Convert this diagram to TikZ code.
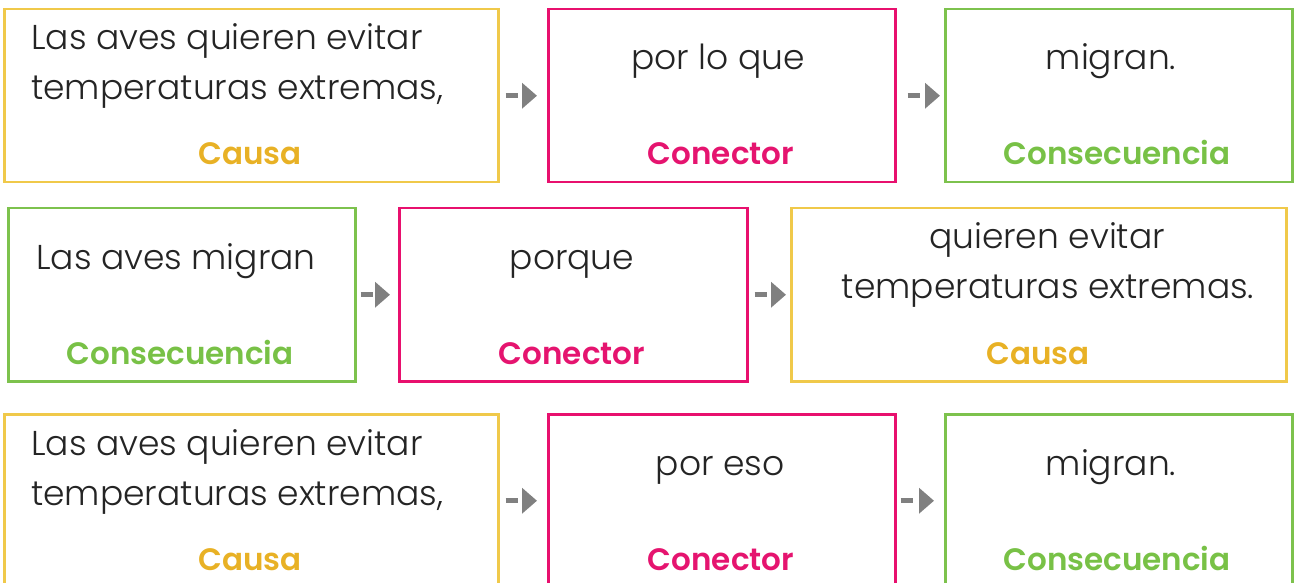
\documentclass[tikz,border=0pt]{standalone}
\usepackage{fontspec}
\setmainfont{Poppins}[UprightFont=* Light, BoldFont=* SemiBold]
\usetikzlibrary{arrows.meta}
\definecolor{cyel}{HTML}{F0C94A}
\definecolor{cyellab}{HTML}{E8B125}
\definecolor{cpink}{HTML}{E8106E}
\definecolor{cpinklab}{HTML}{E5146F}
\definecolor{cgreen}{HTML}{7DC24D}
\definecolor{cgreenlab}{HTML}{78C146}
\definecolor{ctext}{HTML}{242424}
\definecolor{carrow}{HTML}{808080}
\tikzset{
  x=1pt,y=-1pt,
  card/.style={draw=#1, line width=2.5pt, rectangle, inner sep=0pt, anchor=north west},
  txt/.style={text=ctext, font=\fontsize{34.5}{40}\selectfont, inner sep=0pt},
  lab/.style={text=#1, font=\fontsize{31}{36}\selectfont\bfseries, inner sep=0pt, anchor=base},
  conn/.style={draw=carrow, line width=5pt, dash pattern=on 12pt off 40pt,
     -{Triangle[length=15pt,width=25pt]}},
}
\begin{document}
\begin{tikzpicture}
\clip (0,0) rectangle (1294,583);
\useasboundingbox (0,0) rectangle (1294,583);
% row 1
\node[card=cyel, minimum width=494pt, minimum height=173pt] (a1) at (3,8) {};
\node[card=cpink, minimum width=347pt, minimum height=173pt] (a2) at (547,8) {};
\node[card=cgreen, minimum width=347pt, minimum height=173pt] (a3) at (944,8) {};
\node[txt, anchor=base west] (a1t1) at (31,50) {Las aves quieren evitar};
\node[txt, anchor=base west] (a1t2) at (31,100) {temperaturas extremas,};
\node[txt, anchor=base] (a2t) at (718,70) {por lo que};
\node[txt, anchor=base] (a3t) at (1111,70) {migran.};
\node[lab=cyellab] (a1l) at (250,165) {Causa};
\node[lab=cpinklab] (a2l) at (721,165) {Conector};
\node[lab=cgreenlab] (a3l) at (1117,165) {Consecuencia};
\draw[conn, shorten <=6pt, shorten >=10pt] (a1.east) -- (a2.west);
\draw[conn, shorten <=11pt, shorten >=4pt] (a2.east) -- (a3.west);
% row 2
\node[card=cgreen, minimum width=347pt, minimum height=173pt] (b1) at (7,207) {};
\node[card=cpink, minimum width=348pt, minimum height=173pt] (b2) at (398,207) {};
\node[card=cyel, minimum width=495pt, minimum height=173pt] (b3) at (790,207) {};
\node[txt, anchor=base] (b1t) at (176,269) {Las aves migran};
\node[txt, anchor=base] (b2t) at (572,269) {porque};
\node[txt, anchor=base] (b3t1) at (1047,248) {quieren evitar};
\node[txt, anchor=base] (b3t2) at (1048,298) {temperaturas extremas.};
\node[lab=cgreenlab] (b1l) at (180,364) {Consecuencia};
\node[lab=cpinklab] (b2l) at (572,364) {Conector};
\node[lab=cyellab] (b3l) at (1038,364) {Causa};
\draw[conn, shorten <=4pt, shorten >=8pt] (b1.east) -- (b2.west);
\draw[conn, shorten <=6pt, shorten >=4pt] (b2.east) -- (b3.west);
% row 3
\node[card=cyel, minimum width=494pt, minimum height=173pt] (c1) at (3,413) {};
\node[card=cpink, minimum width=347pt, minimum height=173pt] (c2) at (547,413) {};
\node[card=cgreen, minimum width=347pt, minimum height=173pt] (c3) at (944,413) {};
\node[txt, anchor=base west] (c1t1) at (31,455) {Las aves quieren evitar};
\node[txt, anchor=base west] (c1t2) at (31,505) {temperaturas extremas,};
\node[txt, anchor=base] (c2t) at (720,475) {por eso};
\node[txt, anchor=base] (c3t) at (1111,475) {migran.};
\node[lab=cyellab] (c1l) at (250,570) {Causa};
\node[lab=cpinklab] (c2l) at (721,570) {Conector};
\node[lab=cgreenlab] (c3l) at (1117,570) {Consecuencia};
\draw[conn, shorten <=6pt, shorten >=10pt] (c1.east) -- (c2.west);
\draw[conn, shorten <=4pt, shorten >=10pt] (c2.east) -- (c3.west);
\end{tikzpicture}
\end{document}
